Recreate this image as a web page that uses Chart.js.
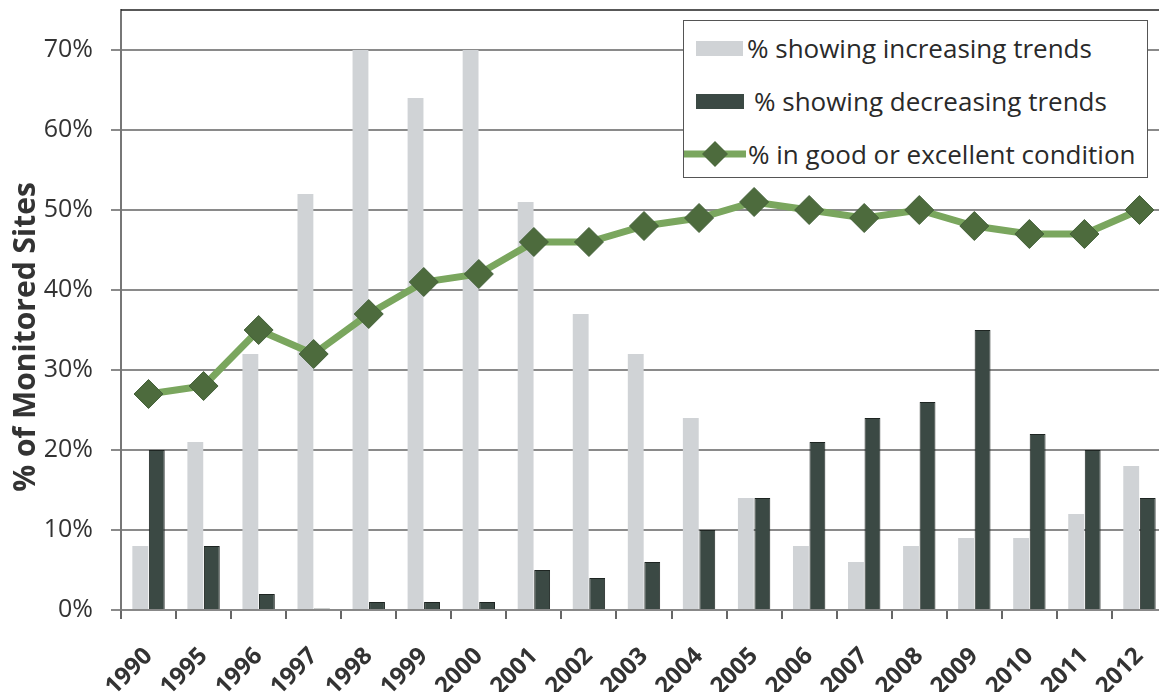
<!DOCTYPE html>
<html>
<head>
<meta charset="utf-8">
<script src="https://cdn.jsdelivr.net/npm/chart.js@4"></script>
<style>
html,body{margin:0;padding:0;background:#fff;overflow:hidden;width:1159px;height:692px;}
#wrap{position:absolute;left:0;top:0;width:1167px;height:692px;}
#legend{position:absolute;left:683px;top:20px;width:463px;height:156px;border:1.5px solid #555;background:#fff;font-family:"Open Sans",sans-serif;font-size:26px;color:#2a2a2a;}
.row{position:absolute;left:0;height:34px;display:flex;align-items:center;white-space:nowrap;}
.sw{display:inline-block;}
</style>
</head>
<body>
<div id="wrap"><canvas id="c" width="1167" height="692"></canvas></div>
<div id="legend">
  <div class="row" style="top:10px;"><span class="sw" style="margin-left:12px;width:47px;height:15px;background:#d0d3d6;"></span><span style="margin-left:4px;">% showing increasing trends</span></div>
  <div class="row" style="top:63px;"><span class="sw" style="margin-left:12px;width:48px;height:15px;background:#3b4944;"></span><span style="margin-left:10px;">% showing decreasing trends</span></div>
  <div class="row" style="top:116px;"><svg width="64" height="30"><line x1="0" y1="15" x2="62" y2="15" stroke="#7aa65e" stroke-width="7"/><polygon points="31,2 44,15 31,28 18,15" fill="#4d6b3d"/></svg><span>% in good or excellent condition</span></div>
</div>
<script>
const categories = ["1990","1995","1996","1997","1998","1999","2000","2001","2002","2003","2004","2005","2006","2007","2008","2009","2010","2011","2012"];
const increasing = [8,21,32,52,70,64,70,51,37,32,24,14,8,6,8,9,9,12,18];
const decreasing = [20,8,2,0.2,1,1,1,5,4,6,10,14,21,24,26,35,22,20,14];
const goodExcellent = [27,28,35,32,37,41,42,46,46,48,49,51,50,49,50,48,47,47,50];
const yTicks = [0,10,20,30,40,50,60,70];
const yTitle = '% of Monitored Sites';

const frame = {
  id:'frame',
  afterDraw(chart){
    const {ctx, chartArea:a} = chart;
    ctx.save();
    ctx.strokeStyle = '#222';
    ctx.lineWidth = 1.5;
    ctx.beginPath();
    ctx.moveTo(a.left, a.top); ctx.lineTo(a.right, a.top); ctx.lineTo(a.right, a.bottom);
    ctx.stroke();
    // y-axis title, placed a little below the plot centre as in the reference
    ctx.translate(26, (a.top + a.bottom) / 2 + 27);
    ctx.rotate(-Math.PI / 2);
    ctx.fillStyle = '#333';
    ctx.font = 'bold 30px "Open Sans", sans-serif';
    ctx.textAlign = 'center';
    ctx.textBaseline = 'middle';
    ctx.fillText(yTitle, 0, 0);
    ctx.restore();
  }
};

new Chart(document.getElementById('c'), {
  type:'bar',
  data:{
    labels: categories,
    datasets:[
      {type:'line', label:'% in good or excellent condition', data: goodExcellent, borderColor:'#7aa65e', borderWidth:7, pointStyle:'rectRot', pointRadius:14.5, pointBackgroundColor:'#4d6b3d', pointBorderColor:'#44613a', pointBorderWidth:1, tension:0, order:0},
      {label:'% showing increasing trends', data: increasing, backgroundColor:'#d0d3d6', borderWidth:0, order:1, categoryPercentage:0.6, barPercentage:0.96},
      {label:'% showing decreasing trends', data: decreasing, backgroundColor:'#3b4944', borderColor:'#1e2522', borderWidth:1, order:1, categoryPercentage:0.6, barPercentage:0.96}
    ]
  },
  options:{
    responsive:false,
    animation:false,
    layout:{autoPadding:false, padding:{left:0,right:0,top:10,bottom:0}},
    plugins:{legend:{display:false}, tooltip:{enabled:false}},
    scales:{
      x:{
        grid:{display:true, drawOnChartArea:false, offset:true, color:'#666', lineWidth:2, tickLength:9},
        border:{color:'#888', width:2},
        ticks:{maxRotation:45, minRotation:45, padding:23, color:'#333', font:{family:'"Open Sans", sans-serif', size:24, weight:'bold'}},
        afterFit(s){ s.height = 82; s.paddingLeft = 0; s.paddingRight = 0; }
      },
      y:{
        min:0, max:75,
        afterBuildTicks(s){ s.ticks = yTicks.map(v=>({value:v})); },
        grid:{color:'#8a8a8a', lineWidth:2, tickLength:10},
        border:{color:'#777', width:2},
        ticks:{padding:18, color:'#333', callback:v=>v+'%', font:{family:'"Open Sans", sans-serif', size:25}},
        title:{display:false, text:yTitle},
        afterFit(s){ s.width = 121; s.paddingTop = 0; s.paddingBottom = 0; }
      }
    }
  },
  plugins:[frame]
});
</script>
</body>
</html>
